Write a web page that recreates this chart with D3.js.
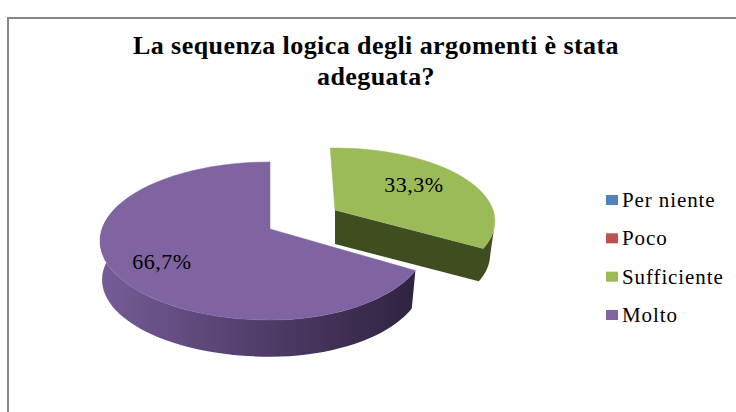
<!DOCTYPE html>
<html><head><meta charset="utf-8">
<script src="https://cdn.jsdelivr.net/npm/d3@7"></script>
<style>html,body{margin:0;padding:0;background:#fff}svg{display:block}text{font-family:"Liberation Serif",serif;fill:#000}</style>
</head><body><svg id="c" width="736" height="412"></svg>
<script>
const categories = ["Per niente", "Poco", "Sufficiente", "Molto"];
const values = [0, 0, 33.3, 66.7];
const valueLabels = ["", "", "33,3%", "66,7%"];
const colors = ["#4f81bd", "#c0504d", "#9bbb59", "#8064a2"];
const titleLines = ["La sequenza logica degli argomenti è stata", "adeguata?"];

const svg = d3.select("#c");
const defs = svg.append("defs");
const grad = defs.append("linearGradient").attr("id","pw").attr("gradientUnits","userSpaceOnUse")
  .attr("x1",105).attr("x2",415).attr("y1",0).attr("y2",0);
grad.append("stop").attr("offset",0).attr("stop-color","#745b96");
grad.append("stop").attr("offset",0.45).attr("stop-color","#54406e");
grad.append("stop").attr("offset",1).attr("stop-color","#2f2340");

// frame
svg.append("path").attr("d","M8,412V18H736").attr("fill","none").attr("stroke","#868686").attr("stroke-width",2);

// title
svg.selectAll("text.t").data(titleLines).join("text").attr("class","t")
  .attr("x",376).attr("y",(d,i)=>54+i*31)
  .attr("text-anchor","middle").attr("font-size",26).attr("font-weight","bold").attr("letter-spacing",0.43).text(d=>d);

// perspective projection of the pie disc
const k = 0.152;
function proj(t, g, s=1, dy=0, sl=s){
  const u=Math.sin(t), v=-Math.cos(t), w=1-k*v;
  const A=u<0?g.al*sl:g.ar*s;
  return [g.cx+A*u/w, g.cy+dy+s*g.b*v/w];
}
const pie = d3.pie().sort(null).value(d=>d).startAngle(0).endAngle(2*Math.PI);
const arcs = pie(values);
const geom = {
  2:{cx:335,cy:210,al:158,ar:158,b:71.4,rot:-0.035,side:"#3f4d21",s:0.97,sl:0.97,d:34,wallFrom:1.75},
  3:{cx:270,cy:229,al:168,ar:155,b:77.2,rot:0,side:"url(#pw)",s:0.975,sl:0.988,d:39,wallTo:5.06}
};
const steps=(a,b)=>d3.range(0,61).map(i=>a+(b-a)*i/60);
const line=d3.line();

// walls
[3,2].forEach(i=>{
  const g=geom[i],a=arcs[i];
  if(i===3){
    const ts=steps(a.startAngle,g.wallTo);
    const pts=ts.map(t=>proj(t,g)).concat(ts.slice().reverse().map(t=>proj(t,g,g.s,g.d,g.sl)));
    svg.append("path").attr("d",line(pts)+"Z").attr("fill",g.side);
  } else {
    const ts=steps(g.wallFrom,a.endAngle);
    const pts=[[g.cx,g.cy]].concat(ts.slice().reverse().map(t=>proj(t,g)),ts.map(t=>proj(t,g,g.s,g.d,g.sl)),[[g.cx,g.cy+g.d]]);
    svg.append("path").attr("d",line(pts)+"Z").attr("fill",g.side);
  }
});
// top faces
[3,2].forEach(i=>{
  const g=geom[i],a=arcs[i];
  const pts=[[g.cx,g.cy]].concat(steps(a.startAngle+g.rot,a.endAngle).map(t=>proj(t,g)));
  svg.append("path").attr("d",line(pts)+"Z").attr("fill",colors[i]).attr("stroke",colors[i]).attr("stroke-width",0.5);
});

// data labels
const labelPos={2:[414,192],3:[162,269]};
[2,3].forEach(i=>svg.append("text").attr("x",labelPos[i][0]).attr("y",labelPos[i][1])
  .attr("text-anchor","middle").attr("font-size",22).attr("letter-spacing",0.5).text(valueLabels[i]));

// legend
const ly=d3.scalePoint().domain(categories).range([200,315]);
const leg=svg.selectAll("g.l").data(categories).join("g").attr("class","l")
  .attr("transform",d=>`translate(606,${ly(d)})`);
leg.append("rect").attr("x",0).attr("y",-5).attr("width",12).attr("height",10).attr("fill",(d,i)=>colors[i]);
leg.append("text").attr("x",16).attr("y",7).attr("font-size",21).attr("letter-spacing",0.9).text(d=>d);
</script></body></html>
